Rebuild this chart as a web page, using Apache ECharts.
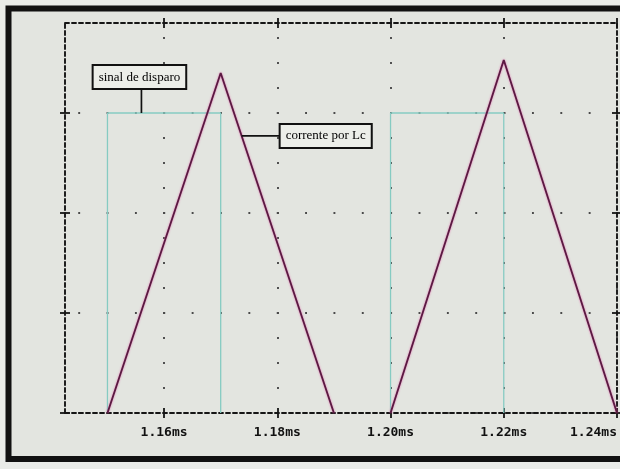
<!DOCTYPE html>
<html>
<head>
<meta charset="utf-8">
<script src="https://cdn.jsdelivr.net/npm/echarts@6/dist/echarts.min.js"></script>
<style>
  html, body { margin: 0; padding: 0; background: #e9ebe8; }
  #chart { width: 620px; height: 469px; }
</style>
</head>
<body>
<div id="chart"></div>
<script>
// Time axis (ms) and its tick labels
const timeMin = 1.1425;
const timeMax = 1.24;
const timeTicks = [1.16, 1.18, 1.20, 1.22, 1.24];

// Vertical scale, one grid division per unit
const levelMin = 0;
const levelMax = 3.9;
const levelTicks = [0, 1, 2, 3];

// Gate pulses ("sinal de disparo")
const gateOn = [1.15, 1.20];
const gateOff = [1.17, 1.22];
const gateLevel = 3;

// Triangular current through Lc ("corrente por Lc")
const rampStart = [1.15, 1.20];
const rampPeakTime = [1.17, 1.22];
const rampPeakValue = [3.40, 3.53];
const rampEnd = [1.19, 1.24];

// ---- build series data (a null point breaks the trace between pulses)
const gateData = [];
gateOn.forEach(function (t, i) {
  if (i > 0) gateData.push([(gateOff[i - 1] + t) / 2, null]);
  gateData.push([t, 0], [t, gateLevel], [gateOff[i], gateLevel], [gateOff[i], 0]);
});
const currentData = [];
rampStart.forEach(function (t, i) {
  if (i > 0) currentData.push([(rampEnd[i - 1] + t) / 2, null]);
  currentData.push([t, 0], [rampPeakTime[i], rampPeakValue[i]], [rampEnd[i], 0]);
});

// ---- plot frame geometry
const W = 620, H = 469;
const grid = { left: 65, right: 2, top: 23, bottom: 56 };
const plotW = W - grid.left - grid.right;
const plotH = H - grid.top - grid.bottom;
const xStep = timeTicks[1] - timeTicks[0];
const yStep = levelTicks[1] - levelTicks[0];

// dotted grid: one dot per quarter division along each grid line
const dot = 1.9;
const qx = plotW / (timeMax - timeMin) * xStep / 4;
const qy = plotH / (levelMax - levelMin) * yStep / 4;
const firstDx = ((timeTicks[0] - timeMin) / (timeMax - timeMin) * plotW) % qx;
const firstDy = ((levelMax - levelTicks[levelTicks.length - 1]) / (levelMax - levelMin) * plotH) % qy;
function dotStyle(q, first) {
  const s0 = first - dot / 2;
  return { color: '#4a4a4a', width: dot, type: [dot, q - dot], dashOffset: ((q - s0) % q + q) % q };
}

const ink = '#151515';
const frameLine = { show: true, onZero: false, lineStyle: { color: ink, width: 1.9, type: [4, 3] } };
const noLine = { show: false, onZero: false };
const tickIn = { show: true, inside: true, length: 5, lineStyle: { color: ink, width: 1.8 } };
const tickOut = { show: true, inside: false, length: 5, lineStyle: { color: ink, width: 1.8 } };

function xAxisDef(pos, line, tick, withLabels, split) {
  return {
    type: 'value', position: pos, min: timeMin, max: timeMax,
    axisLine: line,
    axisTick: Object.assign({ customValues: timeTicks }, tick),
    axisLabel: withLabels ? {
      show: true, customValues: timeTicks, margin: 13, alignMaxLabel: 'right',
      color: '#111', fontFamily: 'DejaVu Sans Mono', fontWeight: 'bold', fontSize: 13, lineHeight: 13,
      formatter: function (v) { return v.toFixed(2) + 'ms'; }
    } : { show: false },
    splitLine: split ? { show: true, lineStyle: dotStyle(qy, firstDy) } : { show: false }
  };
}
function yAxisDef(pos, line, tick, split) {
  return {
    type: 'value', position: pos, min: levelMin, max: levelMax,
    axisLine: line,
    axisTick: Object.assign({ customValues: levelTicks }, tick),
    axisLabel: { show: false },
    splitLine: split ? { show: true, lineStyle: dotStyle(qx, firstDx) } : { show: false }
  };
}

const chart = echarts.init(document.getElementById('chart'), null, { renderer: 'canvas' });
chart.setOption({
  backgroundColor: '#e9ebe8',
  animation: false,
  grid: { left: grid.left, right: grid.right, top: grid.top, bottom: grid.bottom },
  xAxis: [
    xAxisDef('bottom', frameLine, tickIn, true, true),
    xAxisDef('bottom', noLine, tickOut, false, false),
    xAxisDef('top', frameLine, tickIn, false, false),
    xAxisDef('top', noLine, tickOut, false, false)
  ],
  yAxis: [
    yAxisDef('left', frameLine, tickIn, true),
    yAxisDef('left', noLine, tickOut, false),
    yAxisDef('right', frameLine, tickIn, false),
    yAxisDef('right', noLine, tickOut, false)
  ],
  series: [
    {
      name: 'sinal de disparo', type: 'line', data: gateData, showSymbol: false,
      connectNulls: false, z: 3,
      lineStyle: { color: '#86cbc2', width: 1.3 }
    },
    {
      name: 'corrente por Lc', type: 'line', data: currentData, showSymbol: false,
      connectNulls: false, z: 4,
      lineStyle: { color: '#5a1a42', width: 1.8, shadowColor: 'rgba(225,90,165,0.9)', shadowBlur: 2 }
    }
  ]
});

// ---- callout boxes tied to points on the traces
const toPx = function (p) { return chart.convertToPixel({ xAxisIndex: 0, yAxisIndex: 0 }, p); };
const gateAnchor = toPx([gateOn[0] + 0.3 * (gateOff[0] - gateOn[0]), gateLevel]);
const f = 0.185;
const curAnchor = toPx([
  rampPeakTime[0] + f * (rampEnd[0] - rampPeakTime[0]),
  rampPeakValue[0] * (1 - f)
]);
const boxText = {
  font: '13px "Liberation Serif"', fill: '#000',
  backgroundColor: '#eceee9', borderColor: '#111', borderWidth: 2, padding: [5, 5, 4, 5]
};
const lead = { stroke: '#111', lineWidth: 1.7 };
const leadLen = 39;

chart.setOption({
  graphic: [
    {
      type: 'rect', z: -10, silent: true,
      shape: { x: 8.5, y: 8.5, width: 640, height: 450.5 },
      style: { fill: '#e3e5e0', stroke: '#111', lineWidth: 6 }
    },
    {
      type: 'line', z: 10, silent: true,
      shape: { x1: gateAnchor[0], y1: gateAnchor[1], x2: gateAnchor[0], y2: gateAnchor[1] - 25 },
      style: lead
    },
    {
      type: 'text', z: 11, silent: true, x: gateAnchor[0] - 2, y: gateAnchor[1] - 25,
      style: Object.assign({ text: 'sinal de disparo', align: 'center', verticalAlign: 'bottom' }, boxText)
    },
    {
      type: 'line', z: 10, silent: true,
      shape: { x1: curAnchor[0], y1: curAnchor[1], x2: curAnchor[0] + leadLen, y2: curAnchor[1] },
      style: lead
    },
    {
      type: 'text', z: 11, silent: true, x: curAnchor[0] + leadLen, y: curAnchor[1],
      style: Object.assign({ text: 'corrente por Lc', align: 'left', verticalAlign: 'middle' }, boxText)
    }
  ]
});
</script>
</body>
</html>
